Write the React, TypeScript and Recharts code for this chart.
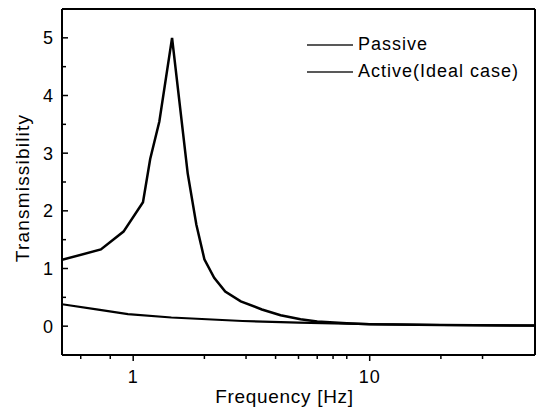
import { LineChart, Line, XAxis, YAxis, ReferenceLine } from 'recharts'

// frequency [Hz] and transmissibility
const passiveFreq = [0.5, 0.73, 0.91, 1.1, 1.18, 1.29, 1.46, 1.7, 1.85, 2.0, 2.2, 2.45, 2.85, 3.5, 4.2, 5.1, 6, 8, 10, 20, 50]
const passiveVal = [1.15, 1.33, 1.64, 2.15, 2.9, 3.55, 5.0, 2.65, 1.76, 1.16, 0.84, 0.6, 0.43, 0.29, 0.19, 0.12, 0.08, 0.05, 0.035, 0.02, 0.01]

const activeFreq = [0.5, 0.7, 0.95, 1.45, 2.9, 5, 10, 20, 50]
const activeVal = [0.38, 0.29, 0.21, 0.15, 0.09, 0.06, 0.035, 0.02, 0.01]

const xTicks = [0.5, 0.6, 0.7, 0.8, 0.9, 1, 2, 3, 4, 5, 6, 7, 8, 9, 10, 20, 30, 40, 50]
const xLabels = [1, 10]
const yTicks = [-0.5, 0, 0.5, 1, 1.5, 2, 2.5, 3, 3.5, 4, 4.5, 5, 5.5]
const seriesNames = ['Passive', 'Active(Ideal case)']

const passive = passiveFreq.map((f, i) => ({ f, v: passiveVal[i] }))
const active = activeFreq.map((f, i) => ({ f, v: activeVal[i] }))

const FONT = '"Liberation Sans", Arial, sans-serif'

function XTick(props: any) {
  const { x, y, payload } = props
  const major = xLabels.includes(payload.value)
  if (payload.value === 0.5 || payload.value === 50) return null
  return (
    <g>
      <line x1={x} y1={y} x2={x} y2={y + (major ? 6 : 4)} stroke="#000" strokeWidth={1.5} />
      {major && (
        <text x={x} y={y + 28} textAnchor="middle" fontSize={18} letterSpacing={1} fontFamily={FONT} fill="#000">
          {payload.value}
        </text>
      )}
    </g>
  )
}

function YTick(props: any) {
  const { x, y, payload } = props
  const major = Number.isInteger(payload.value)
  if (payload.value === -0.5 || payload.value === 5.5) return null
  return (
    <g>
      <line x1={x} y1={y} x2={x + (major ? 6 : 4)} y2={y} stroke="#000" strokeWidth={1.5} />
      {major && (
        <text x={x - 9} y={y + 6.5} textAnchor="end" fontSize={18} fontFamily={FONT} fill="#000">
          {payload.value}
        </text>
      )}
    </g>
  )
}

function LegendBox() {
  return (
    <div style={{ position: 'absolute', left: 305, top: 31, fontFamily: FONT, fontSize: 18, letterSpacing: 1, color: '#000' }}>
      {seriesNames.map((name) => (
        <div key={name} style={{ display: 'flex', alignItems: 'center', height: 27 }}>
          <svg width={51} height={10}>
            <line x1={2} y1={5} x2={48} y2={5} stroke="#222" strokeWidth={1.5} />
          </svg>
          <span style={{ marginLeft: 2 }}>{name}</span>
        </div>
      ))}
    </div>
  )
}

export default function App() {
  return (
    <div style={{ position: 'absolute', left: 0, top: 0, width: 538, height: 407, background: '#fff' }}>
      <LineChart width={538} height={407} margin={{ top: 9, right: 3, left: 0, bottom: 0 }}>
        <XAxis
          dataKey="f"
          type="number"
          scale="log"
          domain={[0.5, 50]}
          ticks={xTicks}
          allowDataOverflow
          height={52}
          stroke="#000"
          strokeWidth={2}
          tickSize={0}
          tickMargin={0}
          tick={<XTick />}
          label={{ value: 'Frequency [Hz]', position: 'insideBottom', offset: 4, dx: -14, fontSize: 19, letterSpacing: 0.7, fontFamily: FONT, fill: '#000' }}
        />
        <YAxis
          type="number"
          domain={[-0.5, 5.5]}
          ticks={yTicks}
          width={62}
          stroke="#000"
          strokeWidth={2}
          tickSize={0}
          tickMargin={0}
          tick={<YTick />}
          label={{ value: 'Transmissibility', angle: -90, position: 'insideLeft', offset: 22, dy: 6, style: { textAnchor: 'middle' }, fontSize: 19, letterSpacing: 1.2, fontFamily: FONT, fill: '#000' }}
        />
        <ReferenceLine y={5.5} stroke="#000" strokeWidth={2} ifOverflow="visible" />
        <ReferenceLine x={50} stroke="#000" strokeWidth={2} ifOverflow="visible" />
        <Line data={passive} dataKey="v" name={seriesNames[0]} type="linear" stroke="#000" strokeWidth={2.5} dot={false} isAnimationActive={false} />
        <Line data={active} dataKey="v" name={seriesNames[1]} type="linear" stroke="#000" strokeWidth={2.2} dot={false} isAnimationActive={false} />
      </LineChart>
      <LegendBox />
    </div>
  )
}
